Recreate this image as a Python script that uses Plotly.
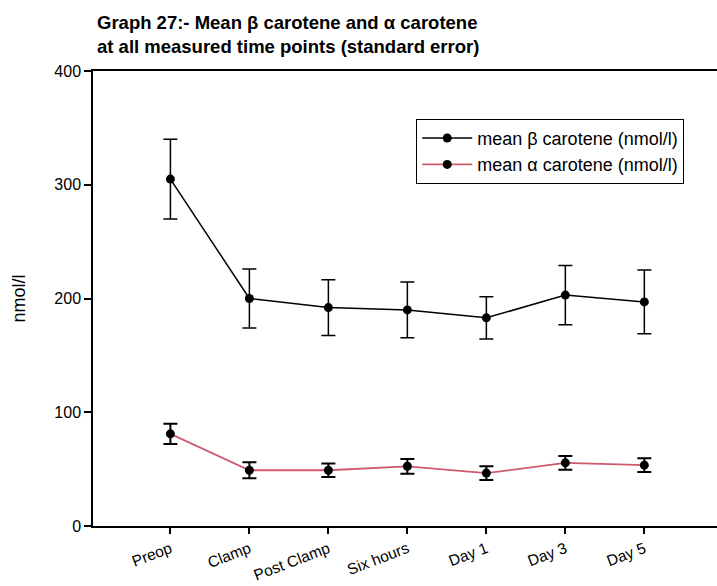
import plotly.graph_objects as go

# Time points and measured means with standard errors (nmol/l)
time_points = ["Preop", "Clamp", "Post Clamp", "Six hours", "Day 1", "Day 3", "Day 5"]
beta_mean = [305, 200, 192, 190, 183, 203, 197]
beta_se = [35, 26, 24.5, 24.5, 18.5, 26, 28]
alpha_mean = [81, 49, 49, 52.5, 46.5, 55.5, 53.5]
alpha_se = [9, 7, 6, 6.5, 6, 6, 6]
y_ticks = [0, 100, 200, 300, 400]

idx = list(range(len(time_points)))
font_family = "Liberation Sans, Arial, sans-serif"

fig = go.Figure()

fig.add_trace(go.Scatter(
    x=idx, y=beta_mean,
    mode="lines+markers",
    name="mean \u03b2 carotene (nmol/l)",
    line=dict(color="black", width=1.5),
    marker=dict(color="black", size=9),
    error_y=dict(type="data", array=beta_se, visible=True,
                 color="black", thickness=1.5, width=7),
))

fig.add_trace(go.Scatter(
    x=idx, y=alpha_mean,
    mode="lines+markers",
    name="mean \u03b1 carotene (nmol/l)",
    line=dict(color="#cf5a6e", width=1.8),
    marker=dict(color="black", size=9),
    error_y=dict(type="data", array=alpha_se, visible=True,
                 color="black", thickness=2, width=7),
))

# Two-line bold heading above the plotting area
fig.add_annotation(
    text="<b>Graph 27:- Mean \u03b2 carotene and \u03b1 carotene<br>"
         "at all measured time points (standard error)</b>",
    xref="paper", yref="paper", x=0.003, y=1.08,
    xanchor="left", yanchor="middle", align="left",
    showarrow=False,
    font=dict(family=font_family, size=18.5, color="black"),
)

fig.update_layout(
    width=717, height=586,
    margin=dict(l=93, r=0, t=71, b=60),
    paper_bgcolor="white",
    plot_bgcolor="white",
    font=dict(family=font_family, size=16, color="black"),
    showlegend=True,
    legend=dict(
        x=0.518, y=0.895, xanchor="left", yanchor="top",
        bgcolor="white", bordercolor="black", borderwidth=1,
        font=dict(family=font_family, size=18, color="black"),
        itemwidth=50,
        tracegroupgap=0,
    ),
)

fig.update_xaxes(
    range=[-0.98, 6.92],
    tickmode="array", tickvals=idx, ticktext=time_points,
    tickangle=-21,
    showgrid=False, zeroline=False,
    showline=True, linecolor="black", linewidth=2, mirror=True,
    ticks="outside", ticklen=6, tickcolor="black", tickwidth=1.5,
    tickfont=dict(family=font_family, size=15.5),
)

fig.update_yaxes(
    range=[0, 400],
    tickmode="array", tickvals=y_ticks,
    showgrid=False, zeroline=False,
    showline=True, linecolor="black", linewidth=1.5,
    ticks="outside", ticklen=7, tickcolor="black", tickwidth=1.5,
    tickfont=dict(family=font_family, size=16),
    title=dict(text="nmol/l", font=dict(family=font_family, size=18), standoff=24),
)

fig.write_html("out.html")
